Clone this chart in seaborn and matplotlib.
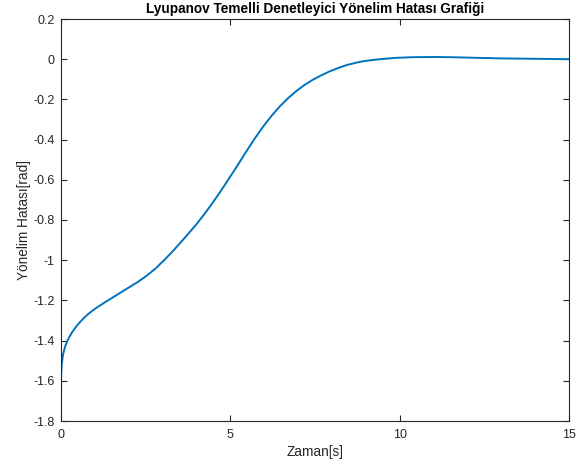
import matplotlib
matplotlib.use("Agg")
import matplotlib.pyplot as plt
import seaborn as sns
import pandas as pd

# Data
zaman = [0, 0.003, 0.02, 0.06, 0.12, 0.2, 0.31, 0.43, 0.56, 0.68, 0.81, 1.0, 1.3,
         1.55, 1.79, 2.03, 2.28, 2.53, 2.78, 3.02, 3.27, 3.51, 3.75, 4.0, 4.25,
         4.50, 4.75, 4.99, 5.24, 5.48, 5.72, 5.97, 6.22, 6.47, 6.71, 6.96, 7.2,
         7.45, 7.7, 7.94, 8.2, 8.44, 8.7, 8.93, 9.2, 9.42, 9.7, 9.91, 10.4, 11,
         11.5, 12, 12.5, 13, 13.5, 14, 14.5, 15]
hata = [-1.8, -1.57, -1.52, -1.47, -1.43, -1.397, -1.363, -1.334, -1.308, -1.287,
        -1.267, -1.242, -1.209, -1.183, -1.158, -1.133, -1.107, -1.077, -1.043,
        -1.004, -0.961, -0.916, -0.870, -0.821, -0.767, -0.709, -0.648, -0.586,
        -0.521, -0.457, -0.395, -0.335, -0.281, -0.233, -0.193, -0.157, -0.127,
        -0.101, -0.079, -0.060, -0.043, -0.029, -0.018, -0.010, -0.004, 0.0,
        0.004, 0.007, 0.010, 0.011, 0.010, 0.008, 0.006, 0.004, 0.003, 0.002,
        0.001, 0.0]

x_ticks = [0, 5, 10, 15]
y_ticks = [0.2, 0, -0.2, -0.4, -0.6, -0.8, -1, -1.2, -1.4, -1.6, -1.8]
y_tick_labels = ["0.2", "0", "-0.2", "-0.4", "-0.6", "-0.8", "-1", "-1.2", "-1.4", "-1.6", "-1.8"]

sns.set_style("ticks")
plt.rcParams["font.family"] = ["Liberation Sans", "DejaVu Sans"]

df = pd.DataFrame({"Zaman": zaman, "Hata": hata})

fig = plt.figure(figsize=(5.85, 4.66), dpi=100)
fig.patch.set_facecolor("white")
ax = fig.add_axes([61 / 585, 45 / 466, 508 / 585, 402 / 466])

sns.lineplot(data=df, x="Zaman", y="Hata", ax=ax, color="#0072BD", linewidth=1.4,
             estimator=None, sort=False)

ax.set_xlim(0, 15)
ax.set_ylim(-1.8, 0.2)
ax.set_xticks(x_ticks)
ax.set_xticklabels([str(v) for v in x_ticks])
ax.set_yticks(y_ticks)
ax.set_yticklabels(y_tick_labels)

axc = "#262626"
for s in ax.spines.values():
    s.set_visible(True)
    s.set_color(axc)
    s.set_linewidth(0.8)
ax.tick_params(direction="in", length=4, width=0.8, colors=axc, labelsize=9,
               top=True, right=True)
ax.tick_params(axis="x", pad=5.5)
ax.tick_params(axis="y", pad=4.5)
for lab in ax.get_xticklabels() + ax.get_yticklabels():
    lab.set_color(axc)

ax.set_xlabel("Zaman[s]", fontsize=9.8, color=axc, labelpad=3)
ax.set_ylabel("Yönelim Hatası[rad]", fontsize=9.8, color=axc, labelpad=2)
ax.set_title("Lyupanov Temelli Denetleyici Yönelim Hatası Grafiği",
             fontsize=9.8, fontweight="bold", color="black", pad=4)

fig.savefig("out.png", dpi=100, facecolor="white")
